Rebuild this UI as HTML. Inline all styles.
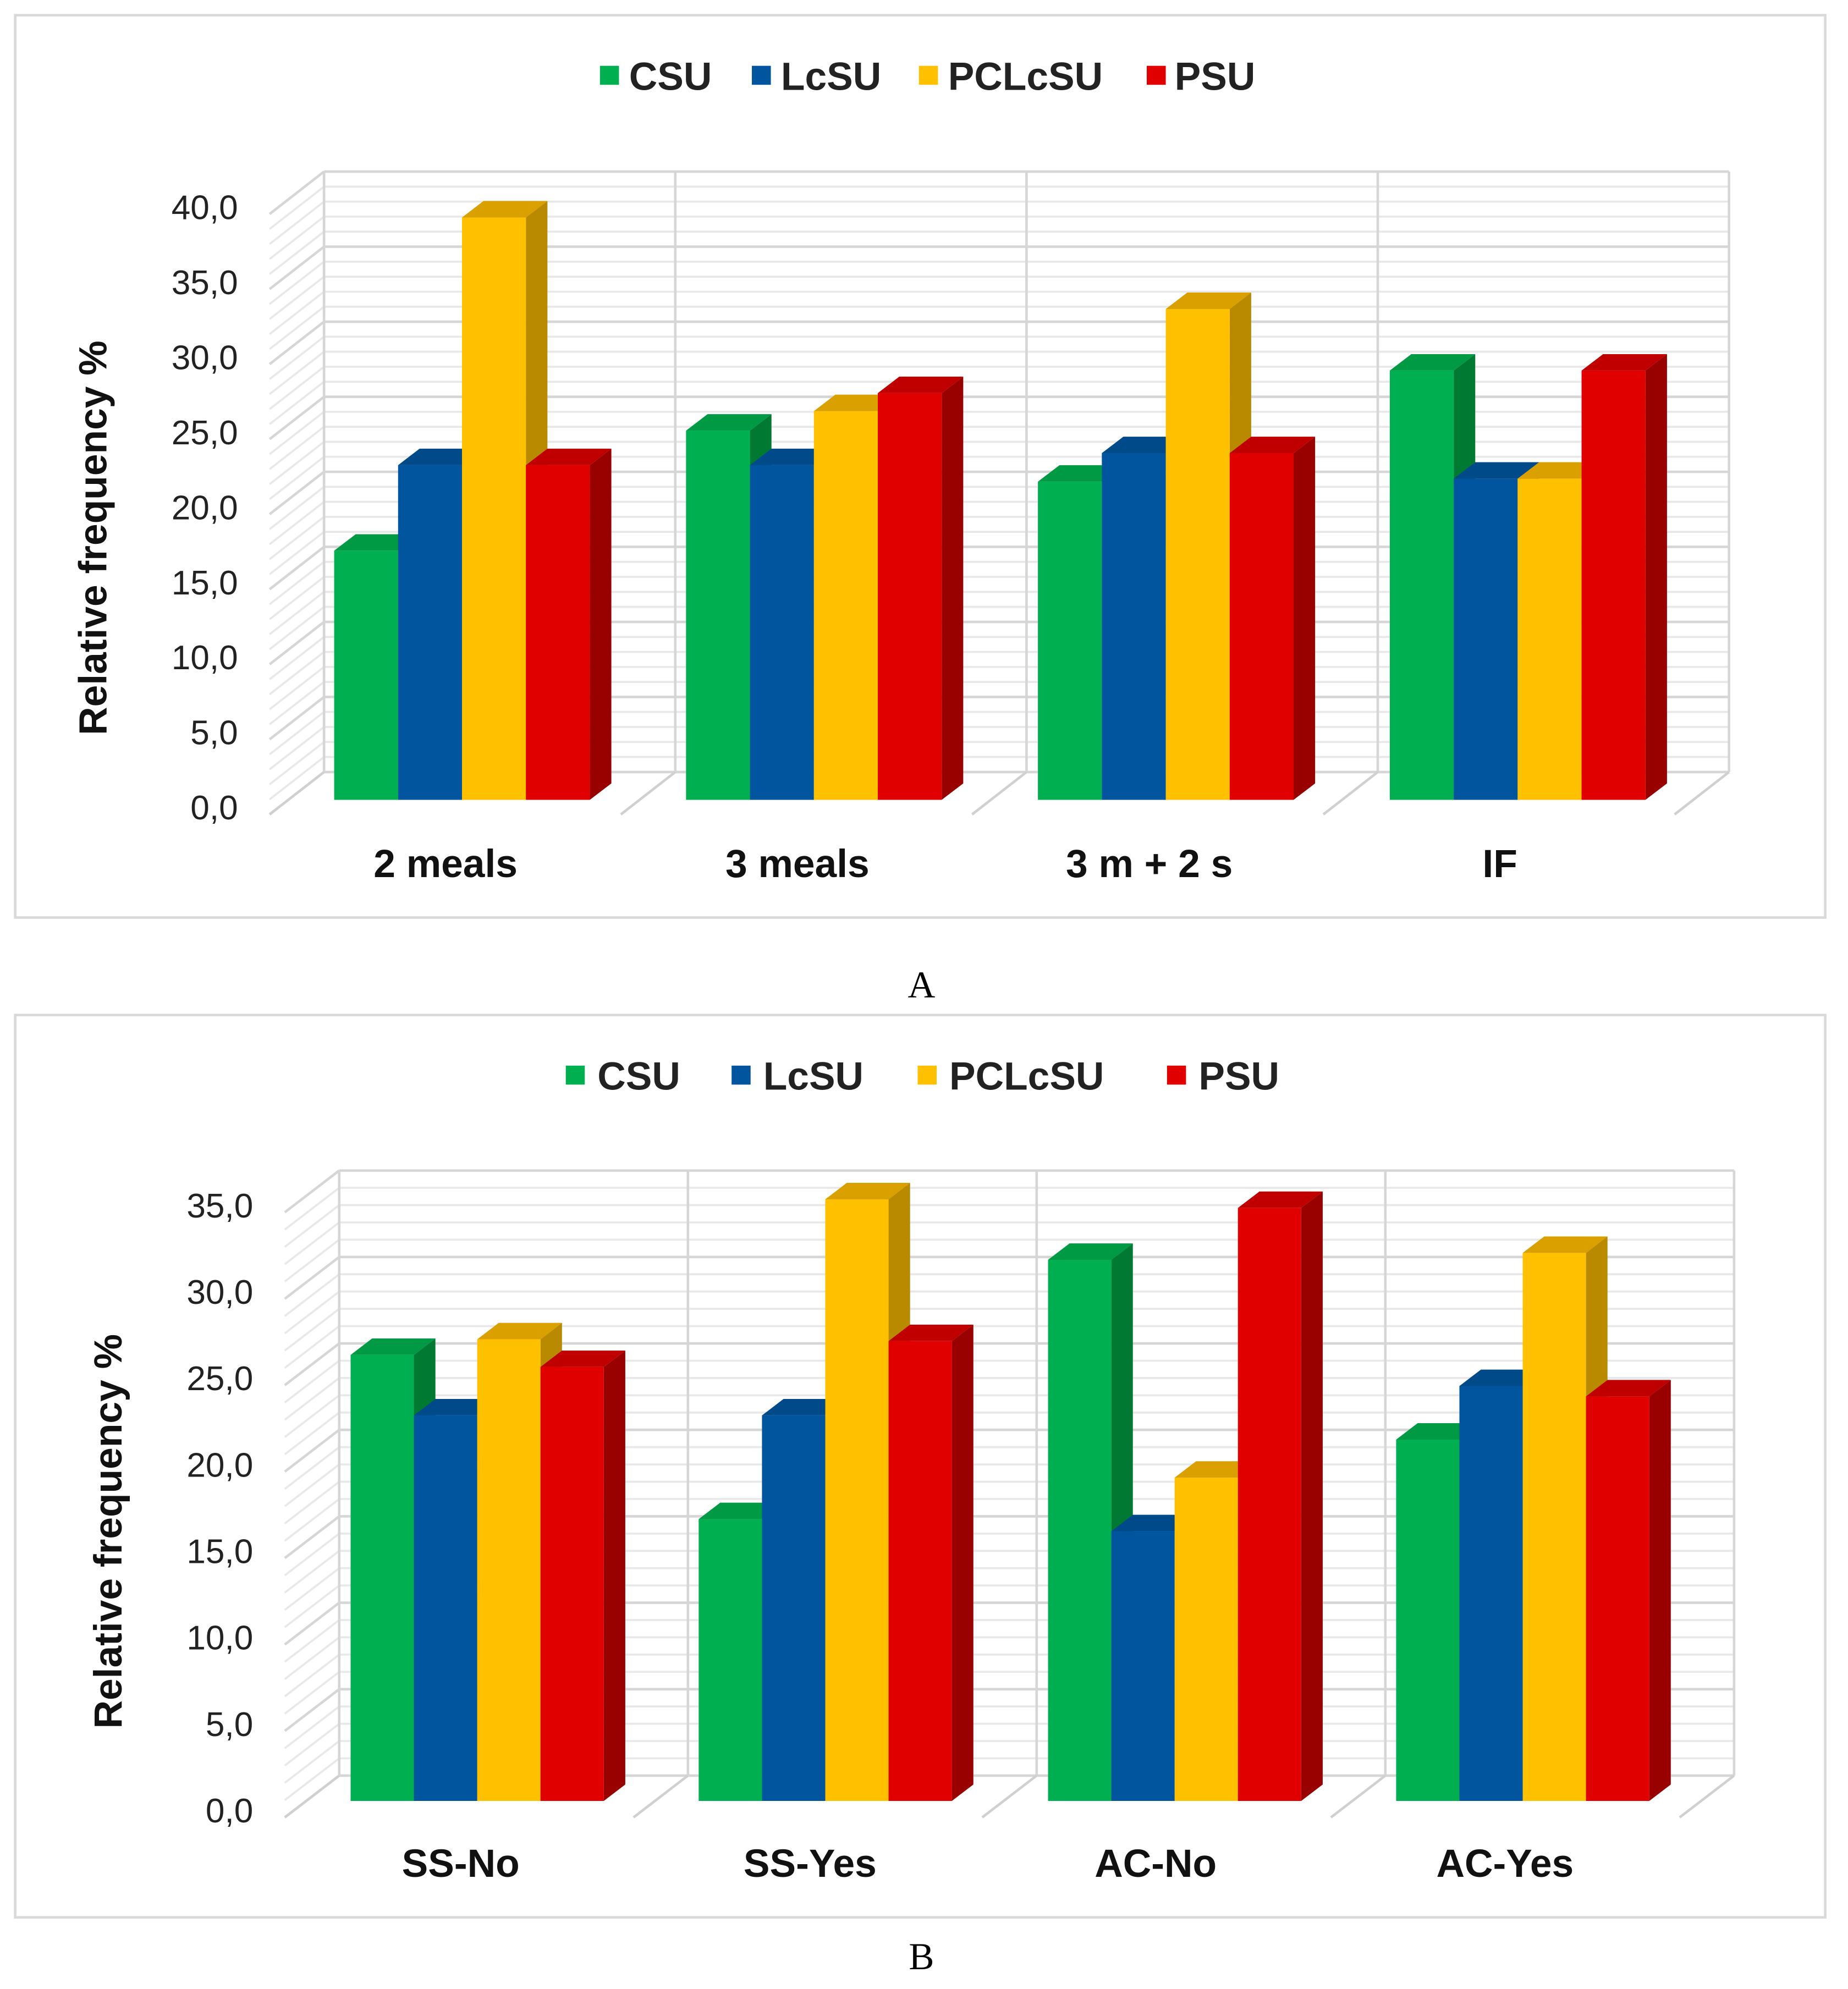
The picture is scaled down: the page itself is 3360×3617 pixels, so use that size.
<!DOCTYPE html>
<html><head><meta charset="utf-8"><style>
html,body{margin:0;padding:0;background:#fff;}
svg{display:block;}
text{font-family:"Liberation Sans",Arial,sans-serif;}
</style></head><body>
<svg id="root" width="3360" height="3617" viewBox="0 0 1460 1571.6" preserveAspectRatio="none" xmlns="http://www.w3.org/2000/svg">
<rect x="0" y="0" width="1460" height="1572" fill="#fff"/>
<g id="chartA"></g>
<g id="chartB"></g>
<text x="728" y="788" font-size="30" text-anchor="middle" style="font-family:'Liberation Serif',serif">A</text>
<text x="728" y="1556" font-size="30" text-anchor="middle" style="font-family:'Liberation Serif',serif">B</text>
</svg>
<script>
const series = ["CSU","LcSU","PCLcSU","PSU"];
const catsA = ["2 meals","3 meals","3 m + 2 s","IF"];
const csuA = [16.6,24.6,21.2,28.6];
const lcsuA = [22.3,22.3,23.1,21.4];
const pclcsuA = [38.8,25.9,32.7,21.4];
const psuA = [22.3,27.1,23.1,28.6];
const ticksA = ["0,0","5,0","10,0","15,0","20,0","25,0","30,0","35,0","40,0"];
const catsB = ["SS-No","SS-Yes","AC-No","AC-Yes"];
const csuB = [25.8,16.3,31.3,20.9];
const lcsuB = [22.3,22.3,15.6,24.0];
const pclcsuB = [26.7,34.8,18.7,31.7];
const psuB = [25.1,26.6,34.3,23.4];
const ticksB = ["0,0","5,0","10,0","15,0","20,0","25,0","30,0","35,0"];

const NS="http://www.w3.org/2000/svg";
const fronts=["#00b050","#00559e","#ffc000","#e00000"];
const tops=["#009a44","#004a8a","#d9a000","#c00000"];
const sides=["#007a33","#003a6e","#b98a00","#990000"];
function mk(parent,tag,attrs,txt){const e=document.createElementNS(NS,tag);for(const k in attrs)e.setAttribute(k,attrs[k]);if(txt!==undefined)e.textContent=txt;parent.appendChild(e);return e;}

function drawChart(g,cfg){
  const {box,legY,legSq,legTx,backL,backR,backFloor,unit,maxV,dx,dy,barBase,groupX,barW,cats,data,ticks,tickX,catY,catX,titleX,titleY}=cfg;
  const frame=mk(g,'rect',{x:box[0],y:box[1],width:box[2]-box[0],height:box[3]-box[1],fill:'#fff',stroke:'#d9d9d9','stroke-width':2});
  
  
  for(let i=0;i<4;i++){
    const s=mk(g,'rect',{x:legSq[i],y:legY-8,width:15,height:15,fill:fronts[i]});
    
    
    const t=mk(g,'text',{x:legTx[i],y:legY+11,'font-size':31,'font-weight':'bold',fill:'#222'},series[i]);
    
    
  }
  const yb=v=>backFloor-v*unit;
  const yf=v=>backFloor-dy-v*unit;
  const frontX=backL+dx;
  for(let v=0;v<=maxV;v++){
    const major=v%5===0;
    const col=major?'#d6d6d6':'#e8e8e8';
    const l=mk(g,'line',{x1:backL,y1:yb(v),x2:backR,y2:yb(v),stroke:col,'stroke-width':major?2:1.6});
    
    
    const d=mk(g,'line',{x1:frontX,y1:yf(v),x2:backL,y2:yb(v),stroke:col,'stroke-width':major?2:1.6});
    
    
  }
  const nb=cats.length;
  for(let i=0;i<=nb;i++){
    const xb=backL+(backR-backL)*i/nb;
    const vl=mk(g,'line',{x1:xb,y1:yb(maxV),x2:xb,y2:yb(0),stroke:'#d6d6d6','stroke-width':2});
    
    
    const fl=mk(g,'line',{x1:xb+dx,y1:yf(0),x2:xb,y2:yb(0),stroke:'#d0d0d0','stroke-width':2});
    
    
  }
  ticks.forEach((lab,i)=>{
    const t=mk(g,'text',{x:tickX,y:yf(i*5)+4,'font-size':27,'text-anchor':'end',fill:'#222'},lab);
    
    
  });
  const yt=mk(g,'text',{x:titleX,y:titleY,'font-size':31,'font-weight':'bold','text-anchor':'middle',fill:'#111',transform:`rotate(-90 ${titleX} ${titleY})`},'Relative frequency %');
  
  
  const td=17, th=13;
  cats.forEach((c,ci)=>{
    for(let s=0;s<4;s++){
      const v=data[s][ci];
      const x=groupX[ci]+s*barW;
      const top=barBase-v*unit;
      const bg=mk(g,'g',{});
      
      
      mk(bg,'polygon',{points:`${x},${top} ${x+td},${top-th} ${x+barW+td},${top-th} ${x+barW},${top}`,fill:tops[s]});
      mk(bg,'polygon',{points:`${x+barW},${top} ${x+barW+td},${top-th} ${x+barW+td},${barBase-th} ${x+barW},${barBase}`,fill:sides[s]});
      mk(bg,'rect',{x:x,y:top,width:barW,height:v*unit,fill:fronts[s]});
    }
    const t=mk(g,'text',{x:catX[ci],y:catY,'font-size':31,'font-weight':'bold','text-anchor':'middle',fill:'#111'},c);
    
    
  });
}
drawChart(document.getElementById('chartA'),{
  box:[12,12,1442,725],legY:60,legSq:[474,594,726,906],legTx:[497,617,749,928],
  backL:256,backR:1366,backFloor:610,unit:11.86,maxV:40,dx:-43,dy:-33.5,barBase:632,
  groupX:[264,542,820,1098],barW:50.5,cats:catsA,data:[csuA,lcsuA,pclcsuA,psuA],
  ticks:ticksA,tickX:188,catY:693,catX:[352,630,908,1185],titleX:84,titleY:425
});
drawChart(document.getElementById('chartB'),{
  box:[12,802,1442,1515],legY:850,legSq:[447,578,725,922],legTx:[472,603,750,947],
  backL:268,backR:1370,backFloor:1403,unit:13.66,maxV:35,dx:-43,dy:-33,barBase:1423,
  groupX:[277,552,828,1103],barW:50,cats:catsB,data:[csuB,lcsuB,pclcsuB,psuB],
  ticks:ticksB,tickX:200,catY:1483,catX:[364,640,913,1189],titleX:96,titleY:1210
});
</script>
</body></html>
